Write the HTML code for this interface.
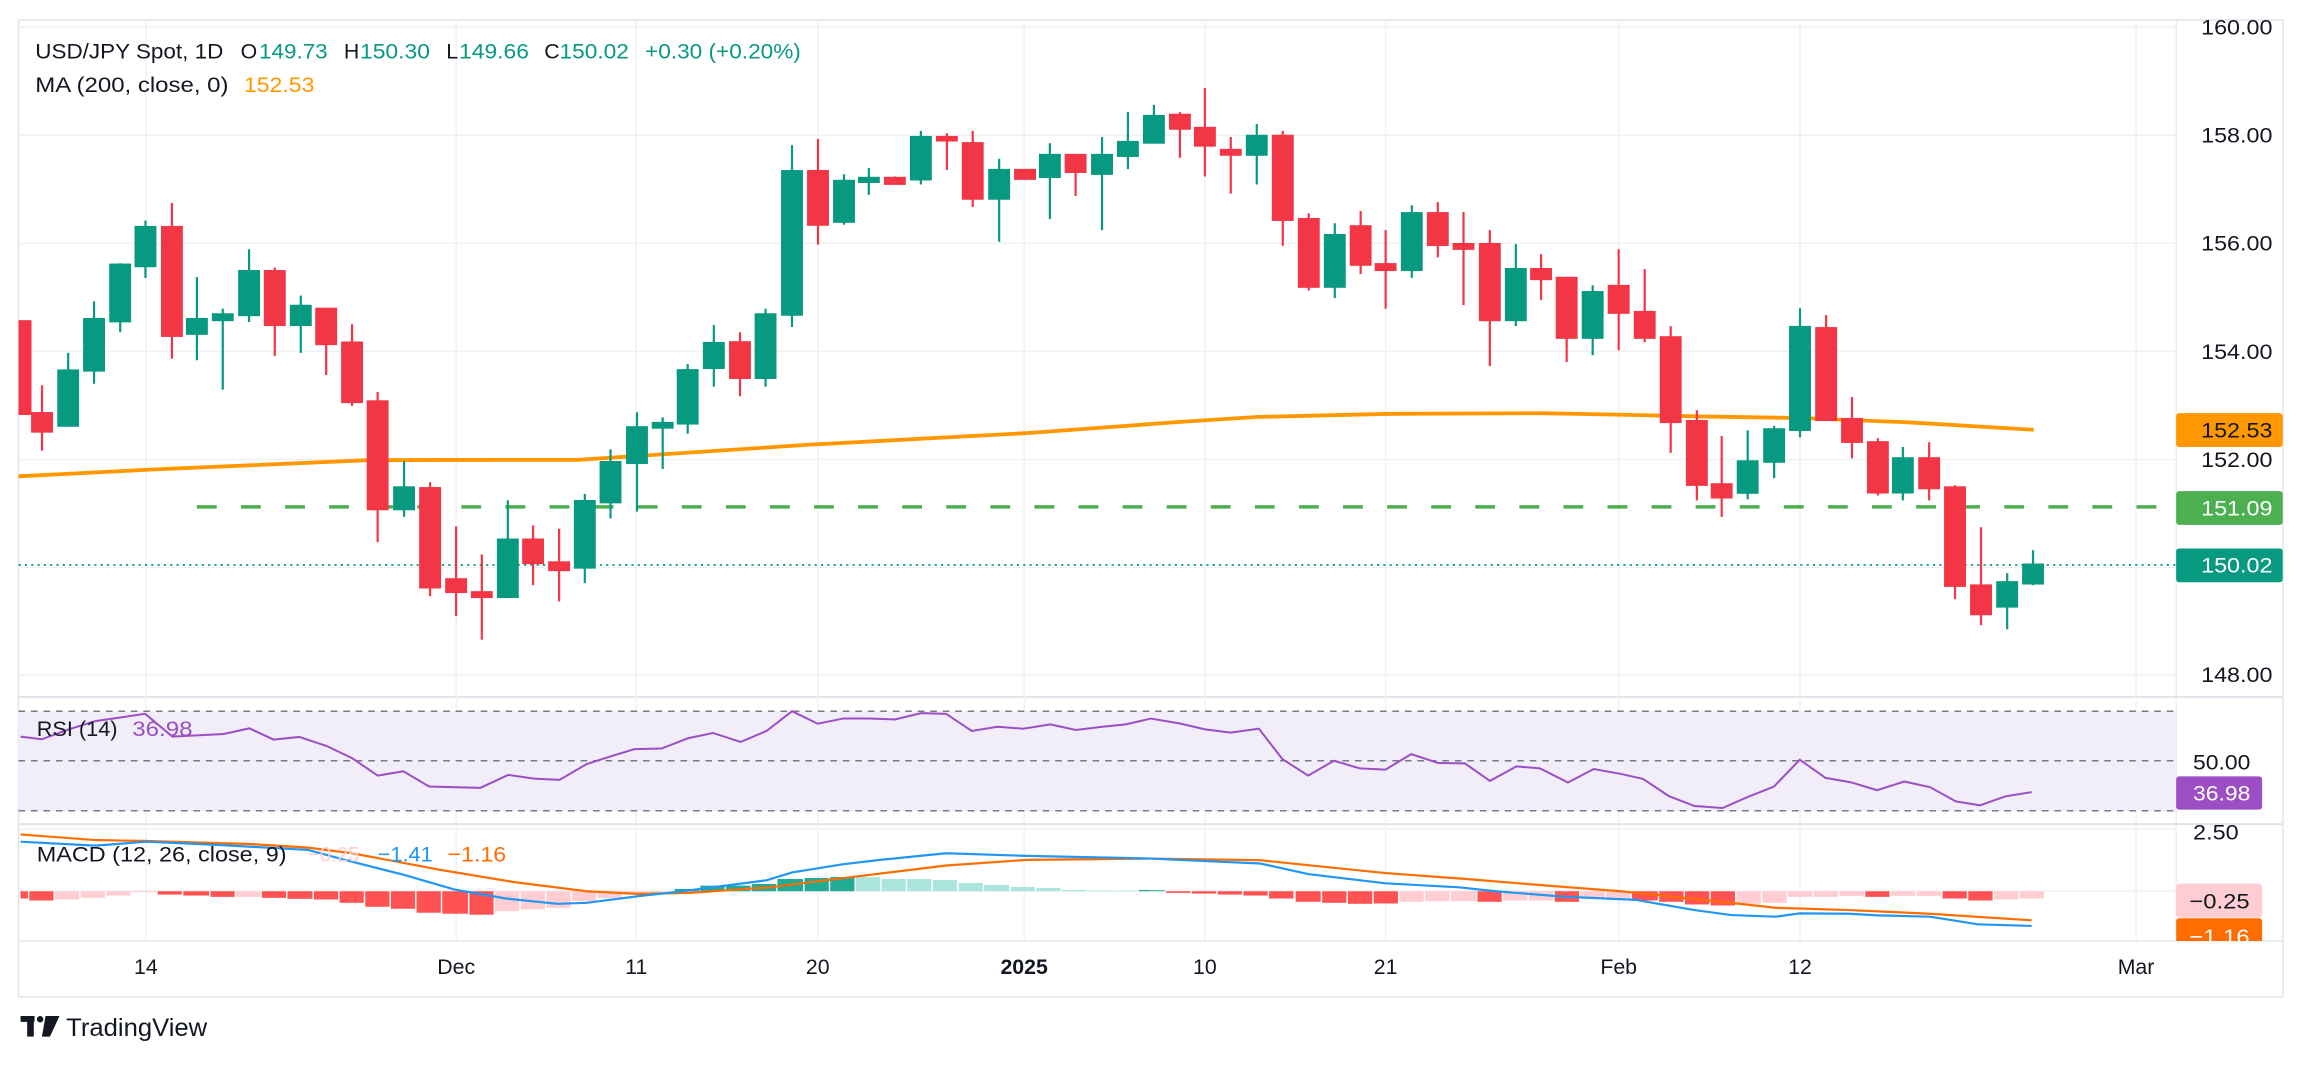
<!DOCTYPE html>
<html><head><meta charset="utf-8"><style>
html,body{margin:0;padding:0;background:#fff;}
svg{display:block;}
text{font-family:"Liberation Sans",sans-serif;}
</style></head><body>
<svg width="2304" height="1066" viewBox="0 0 1568 725" preserveAspectRatio="none" xmlns="http://www.w3.org/2000/svg">
<defs>
<clipPath id="cm"><rect x="12.6" y="13.6" width="1468.4" height="460"/></clipPath>
<clipPath id="cr"><rect x="12.6" y="475" width="1468.4" height="85"/></clipPath>
<clipPath id="cd"><rect x="12.6" y="561" width="1468.4" height="79"/></clipPath>
<clipPath id="cax"><rect x="1481" y="561" width="80" height="79"/></clipPath>
</defs>
<rect width="1568" height="725" fill="#fff"/>
<!-- frame -->
<rect x="12.6" y="13.6" width="1541" height="664.4" fill="none" stroke="#e0e3eb" stroke-width="1"/>
<line x1="12.6" y1="474" x2="1554" y2="474" stroke="#e0e3eb" stroke-width="1.3"/>
<line x1="12.6" y1="560.5" x2="1554" y2="560.5" stroke="#e0e3eb" stroke-width="1.3"/>
<line x1="12.6" y1="640" x2="1554" y2="640" stroke="#e0e3eb" stroke-width="0.8"/>
<line x1="1481" y1="13.6" x2="1481" y2="640" stroke="#e0e3eb" stroke-width="0.6"/>
<!-- grid -->
<g stroke="#f0f1f4" stroke-width="1">
<line x1="12.6" y1="18.3" x2="1481" y2="18.3"/>
<line x1="12.6" y1="92" x2="1481" y2="92"/>
<line x1="12.6" y1="165.5" x2="1481" y2="165.5"/>
<line x1="12.6" y1="239" x2="1481" y2="239"/>
<line x1="12.6" y1="312.5" x2="1481" y2="312.5"/>
<line x1="12.6" y1="386" x2="1481" y2="386"/>
<line x1="12.6" y1="459" x2="1481" y2="459"/>
<line x1="12.6" y1="564" x2="1481" y2="564"/>
<line x1="12.6" y1="606" x2="1481" y2="606"/>
<line x1="99.3" y1="13.6" x2="99.3" y2="640"/>
<line x1="310.5" y1="13.6" x2="310.5" y2="640"/>
<line x1="433" y1="13.6" x2="433" y2="640"/>
<line x1="556.5" y1="13.6" x2="556.5" y2="640"/>
<line x1="697" y1="13.6" x2="697" y2="640"/>
<line x1="820" y1="13.6" x2="820" y2="640"/>
<line x1="943" y1="13.6" x2="943" y2="640"/>
<line x1="1101.6" y1="13.6" x2="1101.6" y2="640"/>
<line x1="1225" y1="13.6" x2="1225" y2="640"/>
<line x1="1453.7" y1="13.6" x2="1453.7" y2="640"/>
</g>

<!-- main pane -->
<g clip-path="url(#cm)">
<polyline fill="none" stroke="#ff9800" stroke-width="2.6" points="12,324 100,319.5 250,313 300,312.8 394,312.7 550,302.5 700,294.5 802,287 855,283.6 943,281.5 1048,281 1100,282 1157,283.2 1225,284.3 1300,287.3 1384,292.3"/>
<line x1="134" y1="344.7" x2="1481" y2="344.7" stroke="#4caf50" stroke-width="2.4" stroke-dasharray="13.5 16.5"/>
<line x1="12.6" y1="384.3" x2="1481" y2="384.3" stroke="#089981" stroke-width="1.2" stroke-dasharray="1.5 2.8"/>
<g id="candles" stroke-width="1.5">
<g stroke="#f23645" fill="#f23645">
<rect x="7.3" y="218.5" width="13.4" height="63"/>
<line x1="28.6" y1="262" x2="28.6" y2="306.5"/><rect x="21.9" y="281" width="13.4" height="12.5"/>
<line x1="117" y1="138" x2="117" y2="244"/><rect x="110.3" y="154.4" width="13.4" height="74"/>
<line x1="187" y1="182" x2="187" y2="242"/><rect x="180.3" y="184.4" width="13.4" height="36.6"/>
<line x1="222" y1="210" x2="222" y2="255"/><rect x="215.3" y="210" width="13.4" height="24"/>
<line x1="239.6" y1="220.5" x2="239.6" y2="276"/><rect x="232.9" y="233" width="13.4" height="40.4"/>
<line x1="257" y1="266.6" x2="257" y2="368.7"/><rect x="250.3" y="273" width="13.4" height="73.3"/>
<line x1="292.7" y1="328" x2="292.7" y2="405.5"/><rect x="286" y="332" width="13.4" height="67.5"/>
<line x1="310.4" y1="358" x2="310.4" y2="419"/><rect x="303.7" y="394" width="13.4" height="8.6"/>
<line x1="327.9" y1="377" x2="327.9" y2="435"/><rect x="321.2" y="402.8" width="13.4" height="3.2"/>
<line x1="362.8" y1="357.3" x2="362.8" y2="398"/><rect x="356.1" y="367" width="13.4" height="16"/>
<line x1="380.5" y1="359.6" x2="380.5" y2="409"/><rect x="373.8" y="382.5" width="13.4" height="5.2"/>
<line x1="503.6" y1="226" x2="503.6" y2="269.5"/><rect x="496.9" y="232.8" width="13.4" height="24.2"/>
<line x1="556.7" y1="94.5" x2="556.7" y2="166.4"/><rect x="550" y="116.4" width="13.4" height="36.4"/>
<line x1="609" y1="120" x2="609" y2="125"/><rect x="602.3" y="121" width="13.4" height="4"/>
<line x1="644.4" y1="90.6" x2="644.4" y2="115.6"/><rect x="637.7" y="93.2" width="13.4" height="2.3"/>
<line x1="662" y1="89" x2="662" y2="140.8"/><rect x="655.3" y="97.4" width="13.4" height="37.7"/>
<rect x="690.9" y="115.6" width="13.4" height="6"/>
<line x1="732" y1="105.4" x2="732" y2="133.3"/><rect x="725.3" y="105.4" width="13.4" height="11.5"/>
<line x1="803" y1="76.3" x2="803" y2="107.3"/><rect x="796.3" y="78.1" width="13.4" height="9.4"/>
<line x1="820" y1="59.9" x2="820" y2="120"/><rect x="813.3" y="87" width="13.4" height="12"/>
<line x1="837.6" y1="93.2" x2="837.6" y2="131.7"/><rect x="830.9" y="102" width="13.4" height="3.2"/>
<line x1="873" y1="89" x2="873" y2="167.2"/><rect x="866.3" y="92.4" width="13.4" height="57.1"/>
<line x1="890.7" y1="145" x2="890.7" y2="197.6"/><rect x="884" y="149" width="13.4" height="46"/>
<line x1="926" y1="143.5" x2="926" y2="186.4"/><rect x="919.3" y="153.9" width="13.4" height="26.1"/>
<line x1="943" y1="156.5" x2="943" y2="210"/><rect x="936.3" y="179.7" width="13.4" height="3.9"/>
<line x1="978.5" y1="137.5" x2="978.5" y2="175"/><rect x="971.8" y="145" width="13.4" height="21.6"/>
<line x1="996" y1="144.2" x2="996" y2="207.5"/><rect x="989.3" y="166" width="13.4" height="3.2"/>
<line x1="1013.9" y1="156.5" x2="1013.9" y2="249"/><rect x="1007.2" y="166" width="13.4" height="51.7"/>
<line x1="1048.8" y1="172.9" x2="1048.8" y2="204"/><rect x="1042.1" y="183" width="13.4" height="6.8"/>
<line x1="1066.2" y1="189" x2="1066.2" y2="246.3"/><rect x="1059.5" y="189" width="13.4" height="40.7"/>
<line x1="1101.6" y1="169.5" x2="1101.6" y2="238.3"/><rect x="1094.9" y="194.5" width="13.4" height="18.2"/>
<line x1="1119.3" y1="183" x2="1119.3" y2="232.8"/><rect x="1112.6" y="212.2" width="13.4" height="17.5"/>
<line x1="1137" y1="221.8" x2="1137" y2="308"/><rect x="1130.3" y="229.4" width="13.4" height="57.6"/>
<line x1="1154.8" y1="279" x2="1154.8" y2="340.3"/><rect x="1148.1" y="286.4" width="13.4" height="43.3"/>
<line x1="1171.7" y1="296.6" x2="1171.7" y2="351.5"/><rect x="1165" y="329.4" width="13.4" height="8.9"/>
<line x1="1242.8" y1="214.3" x2="1242.8" y2="285.6"/><rect x="1236.1" y="223.2" width="13.4" height="62.4"/>
<line x1="1260.4" y1="270" x2="1260.4" y2="311.7"/><rect x="1253.7" y="285" width="13.4" height="15.5"/>
<line x1="1278" y1="298" x2="1278" y2="337"/><rect x="1271.3" y="300.8" width="13.4" height="34.1"/>
<line x1="1312.9" y1="300.8" x2="1312.9" y2="340.3"/><rect x="1306.2" y="311.7" width="13.4" height="20.3"/>
<line x1="1330.5" y1="330" x2="1330.5" y2="407.5"/><rect x="1323.8" y="331.5" width="13.4" height="66.9"/>
<line x1="1348.2" y1="358.6" x2="1348.2" y2="425.2"/><rect x="1341.5" y="398.2" width="13.4" height="19.5"/>
</g>
<g stroke="#089981" fill="#089981">
<line x1="46.4" y1="240" x2="46.4" y2="289.5"/><rect x="39.7" y="252" width="13.4" height="37.5"/>
<line x1="64" y1="205" x2="64" y2="261"/><rect x="57.3" y="217" width="13.4" height="35"/>
<line x1="81.8" y1="179" x2="81.8" y2="226"/><rect x="75.1" y="180" width="13.4" height="38.5"/>
<line x1="99" y1="150" x2="99" y2="189"/><rect x="92.3" y="154.4" width="13.4" height="26.6"/>
<line x1="134" y1="188.5" x2="134" y2="245"/><rect x="127.3" y="217" width="13.4" height="10"/>
<line x1="151.6" y1="210" x2="151.6" y2="265"/><rect x="144.9" y="213.8" width="13.4" height="3.9"/>
<line x1="169.5" y1="169.5" x2="169.5" y2="219"/><rect x="162.8" y="184.4" width="13.4" height="29.9"/>
<line x1="204.7" y1="201" x2="204.7" y2="240"/><rect x="198" y="208" width="13.4" height="13"/>
<line x1="275" y1="313.5" x2="275" y2="351.5"/><rect x="268.3" y="331.5" width="13.4" height="14.8"/>
<line x1="345.6" y1="340.3" x2="345.6" y2="406"/><rect x="338.9" y="367" width="13.4" height="39"/>
<line x1="398" y1="336" x2="398" y2="396.6"/><rect x="391.3" y="340.8" width="13.4" height="45.2"/>
<line x1="415.5" y1="305.5" x2="415.5" y2="352.6"/><rect x="408.8" y="314.3" width="13.4" height="27.3"/>
<line x1="433.5" y1="280.4" x2="433.5" y2="348"/><rect x="426.8" y="290.6" width="13.4" height="24.2"/>
<line x1="451" y1="283.8" x2="451" y2="319"/><rect x="444.3" y="287.7" width="13.4" height="3.1"/>
<line x1="468" y1="247.6" x2="468" y2="295"/><rect x="461.3" y="251.8" width="13.4" height="36.2"/>
<line x1="485.8" y1="221" x2="485.8" y2="263"/><rect x="479.1" y="233.3" width="13.4" height="16.9"/>
<line x1="521" y1="210" x2="521" y2="263"/><rect x="514.3" y="213.8" width="13.4" height="43.2"/>
<line x1="539" y1="98.7" x2="539" y2="222.4"/><rect x="532.3" y="116.4" width="13.4" height="97.6"/>
<line x1="574.4" y1="118.5" x2="574.4" y2="152.8"/><rect x="567.7" y="123" width="13.4" height="27.8"/>
<line x1="591.3" y1="114.3" x2="591.3" y2="132.5"/><rect x="584.6" y="121" width="13.4" height="2.7"/>
<line x1="626.7" y1="89" x2="626.7" y2="125.5"/><rect x="620" y="93.2" width="13.4" height="28.8"/>
<line x1="680" y1="108" x2="680" y2="164.5"/><rect x="673.3" y="115.6" width="13.4" height="19.5"/>
<line x1="714.5" y1="97.4" x2="714.5" y2="149"/><rect x="707.8" y="105.4" width="13.4" height="14.9"/>
<line x1="750" y1="93.2" x2="750" y2="156.5"/><rect x="743.3" y="105.4" width="13.4" height="12.8"/>
<line x1="767.6" y1="76.3" x2="767.6" y2="115"/><rect x="760.9" y="96.6" width="13.4" height="9.4"/>
<line x1="785.3" y1="71.3" x2="785.3" y2="97"/><rect x="778.6" y="78.9" width="13.4" height="18.1"/>
<line x1="855.3" y1="84.3" x2="855.3" y2="125.5"/><rect x="848.6" y="92.4" width="13.4" height="12.8"/>
<line x1="908.4" y1="151.8" x2="908.4" y2="202.8"/><rect x="901.7" y="159.9" width="13.4" height="35.1"/>
<line x1="960.8" y1="139.6" x2="960.8" y2="189"/><rect x="954.1" y="145" width="13.4" height="38.6"/>
<line x1="1031.6" y1="166" x2="1031.6" y2="221.8"/><rect x="1024.9" y="183" width="13.4" height="34.7"/>
<line x1="1083.9" y1="194" x2="1083.9" y2="241.6"/><rect x="1077.2" y="198.7" width="13.4" height="31"/>
<line x1="1189.4" y1="292.7" x2="1189.4" y2="339.6"/><rect x="1182.7" y="313.8" width="13.4" height="21.3"/>
<line x1="1207.4" y1="289.6" x2="1207.4" y2="325.2"/><rect x="1200.7" y="292" width="13.4" height="22"/>
<line x1="1225" y1="209.6" x2="1225" y2="297.4"/><rect x="1218.3" y="222.4" width="13.4" height="70"/>
<line x1="1295" y1="304" x2="1295" y2="340.3"/><rect x="1288.3" y="311.7" width="13.4" height="23.2"/>
<line x1="1366" y1="389.8" x2="1366" y2="428"/><rect x="1359.3" y="396" width="13.4" height="16.5"/>
<line x1="1383.6" y1="374.2" x2="1383.6" y2="398"/><rect x="1376.9" y="384" width="13.4" height="12.8"/>
</g>
</g>
</g>

<!-- RSI pane -->
<g clip-path="url(#cr)">
<rect x="12.6" y="483.7" width="1468.4" height="68" fill="#f1edf9"/>
<g stroke="#787b86" stroke-width="1" stroke-dasharray="4.5 4">
<line x1="12.6" y1="483.7" x2="1481" y2="483.7"/>
<line x1="12.6" y1="517.4" x2="1481" y2="517.4"/>
<line x1="12.6" y1="551.4" x2="1481" y2="551.4"/>
</g>
<g transform="translate(0,462.33) scale(0.49913,0.22472)">
<polyline fill="none" stroke="#9c4fc5" stroke-width="2" vector-effect="non-scaling-stroke" points="28,172 57,180 94,150 130,125 198,103 235,172 305,164 340,147 373,181 408,173 445,200 480,237 515,290 550,277 585,323 655,327 693,288 728,299 763,303 800,255 835,230 865,210 902,208 938,177 972,161 1010,188 1045,155 1080,95 1115,133 1150,117 1185,117 1220,120 1256,101 1290,103 1325,155 1360,142 1395,148 1432,135 1467,152 1500,143 1535,135 1568,118"/>
</g>
<g transform="translate(782.6,462.33) scale(0.50085,0.22472)">
<polyline fill="none" stroke="#9c4fc5" stroke-width="2" vector-effect="non-scaling-stroke" points="0,117 40,132 75,150 110,160 148,148 180,240 215,290 250,245 285,268 320,272 355,225 392,252 428,253 462,306 498,262 530,268 568,311 603,270 640,285 670,300 705,352 740,382 778,388 812,355 848,323 883,242 918,297 952,310 988,334 1025,308 1060,325 1095,368 1128,380 1162,353 1198,340"/>
</g>
</g>

<!-- MACD pane -->
<g clip-path="url(#cd)">
<g transform="translate(0,462.33) scale(0.49913,0.22472)">
<g fill="#ff5252">
<rect x="28" y="640" width="10" height="22"/><rect x="40" y="640" width="33" height="28"/>
<rect x="215" y="640" width="33" height="10"/><rect x="250" y="640" width="35" height="13"/><rect x="287" y="640" width="33" height="17"/>
<rect x="357" y="640" width="33" height="20"/><rect x="392" y="640" width="34" height="23"/><rect x="428" y="640" width="33" height="25"/>
<rect x="463" y="640" width="33" height="35"/><rect x="498" y="640" width="33" height="47"/><rect x="533" y="640" width="33" height="53"/>
<rect x="568" y="640" width="33" height="65"/><rect x="603" y="640" width="35" height="68"/><rect x="640" y="640" width="33" height="71"/>
</g>
<g fill="#ffcdd2">
<rect x="75" y="640" width="33" height="25"/><rect x="110" y="640" width="33" height="20"/><rect x="145" y="640" width="33" height="13"/>
<rect x="180" y="640" width="33" height="3"/><rect x="322" y="640" width="33" height="17"/>
<rect x="675" y="640" width="33" height="60"/><rect x="710" y="640" width="33" height="55"/><rect x="745" y="640" width="33" height="50"/>
<rect x="780" y="640" width="33" height="30"/><rect x="815" y="640" width="33" height="20"/><rect x="850" y="640" width="33" height="10"/>
<rect x="885" y="640" width="33" height="5"/>
</g>
<g fill="#22ab94">
<rect x="920" y="633" width="33" height="7"/><rect x="955" y="623" width="33" height="17"/><rect x="990" y="623" width="33" height="17"/>
<rect x="1025" y="618" width="33" height="22"/><rect x="1060" y="603" width="35" height="37"/><rect x="1097" y="600" width="33" height="40"/>
<rect x="1132" y="597" width="33" height="43"/><rect x="1553" y="636" width="15" height="4"/>
</g>
<g fill="#ace5dc">
<rect x="1167" y="597" width="33" height="43"/><rect x="1202" y="603" width="33" height="37"/><rect x="1237" y="603" width="33" height="37"/>
<rect x="1272" y="606" width="33" height="34"/><rect x="1307" y="615" width="33" height="25"/><rect x="1342" y="621" width="34" height="19"/>
<rect x="1378" y="627" width="33" height="13"/><rect x="1413" y="630" width="33" height="10"/><rect x="1448" y="636" width="33" height="4"/>
<rect x="1483" y="638" width="33" height="2"/><rect x="1518" y="638" width="33" height="2"/>
</g>
<polyline fill="none" stroke="#ff6d00" stroke-width="2.2" vector-effect="non-scaling-stroke" points="28,468 130,485 200,488 340,497 420,508 480,525 600,575 700,612 800,640 870,648 940,645 1050,628 1150,600 1290,562 1400,545 1568,541"/>
<polyline fill="none" stroke="#2196f3" stroke-width="2.2" vector-effect="non-scaling-stroke" points="28,490 130,502 200,490 300,500 420,515 470,545 550,590 620,635 690,662 760,678 800,675 870,655 920,643 1045,607 1080,583 1150,558 1200,545 1290,525 1400,533 1568,541"/>
</g>
<g transform="translate(782.6,462.33) scale(0.50085,0.22472)">
<g fill="#22ab94"><rect x="0" y="637" width="20" height="3"/></g>
<g fill="#ff5252">
<rect x="22" y="640" width="33" height="5"/><rect x="57" y="640" width="33" height="7"/><rect x="92" y="640" width="33" height="10"/>
<rect x="127" y="640" width="33" height="13"/><rect x="162" y="640" width="33" height="22"/><rect x="198" y="640" width="34" height="32"/>
<rect x="234" y="640" width="33" height="35"/><rect x="269" y="640" width="33" height="38"/><rect x="304" y="640" width="33" height="37"/>
<rect x="445" y="640" width="33" height="32"/><rect x="550" y="640" width="33" height="32"/><rect x="655" y="640" width="35" height="28"/>
<rect x="692" y="640" width="33" height="32"/><rect x="727" y="640" width="33" height="40"/><rect x="762" y="640" width="33" height="43"/>
<rect x="972" y="640" width="33" height="17"/><rect x="1077" y="640" width="33" height="22"/><rect x="1112" y="640" width="33" height="28"/>
</g>
<g fill="#ffcdd2">
<rect x="339" y="640" width="33" height="32"/><rect x="374" y="640" width="33" height="30"/><rect x="409" y="640" width="34" height="30"/>
<rect x="480" y="640" width="33" height="28"/><rect x="515" y="640" width="33" height="28"/><rect x="585" y="640" width="33" height="23"/>
<rect x="620" y="640" width="33" height="23"/><rect x="797" y="640" width="33" height="38"/><rect x="832" y="640" width="33" height="35"/>
<rect x="867" y="640" width="33" height="17"/><rect x="902" y="640" width="33" height="17"/><rect x="937" y="640" width="33" height="14"/>
<rect x="1007" y="640" width="33" height="14"/><rect x="1042" y="640" width="33" height="14"/><rect x="1147" y="640" width="33" height="25"/>
<rect x="1182" y="640" width="33" height="22"/>
</g>
<polyline fill="none" stroke="#ff6d00" stroke-width="2.2" vector-effect="non-scaling-stroke" points="0,541 150,546 210,560 320,585 430,603 540,623 640,640 760,668 850,690 950,697 1060,708 1198,728"/>
<polyline fill="none" stroke="#2196f3" stroke-width="2.2" vector-effect="non-scaling-stroke" points="0,541 150,556 215,588 320,616 420,628 470,640 560,656 660,666 740,697 790,712 850,717 883,707 950,708 990,713 1060,717 1125,740 1198,745"/>
</g>
</g>

<!-- legends -->
<g font-size="14.5">
<text x="24" y="39.7" fill="#131722" textLength="128" lengthAdjust="spacingAndGlyphs">USD/JPY Spot, 1D</text>
<text x="163.8" y="39.7" fill="#131722">O</text><text x="176.3" y="39.7" fill="#089981" textLength="46.7" lengthAdjust="spacingAndGlyphs">149.73</text>
<text x="234" y="39.7" fill="#131722">H</text><text x="245" y="39.7" fill="#089981" textLength="47.6" lengthAdjust="spacingAndGlyphs">150.30</text>
<text x="303.7" y="39.7" fill="#131722">L</text><text x="312.4" y="39.7" fill="#089981" textLength="47.6" lengthAdjust="spacingAndGlyphs">149.66</text>
<text x="370.4" y="39.7" fill="#131722">C</text><text x="380.8" y="39.7" fill="#089981" textLength="47.2" lengthAdjust="spacingAndGlyphs">150.02</text>
<text x="439" y="39.7" fill="#089981" textLength="106" lengthAdjust="spacingAndGlyphs">+0.30 (+0.20%)</text>
<text x="24" y="62.5" fill="#131722" textLength="131.5" lengthAdjust="spacingAndGlyphs">MA (200, close, 0)</text>
<text x="166" y="62.5" fill="#ff9800" textLength="48" lengthAdjust="spacingAndGlyphs">152.53</text>
<text x="25" y="500.5" fill="#131722" textLength="55" lengthAdjust="spacingAndGlyphs">RSI (14)</text>
<text x="90" y="500.5" fill="#9c4fc5" textLength="41" lengthAdjust="spacingAndGlyphs">36.98</text>
<text x="25" y="586" fill="#131722" textLength="170" lengthAdjust="spacingAndGlyphs">MACD (12, 26, close, 9)</text>
<text x="209.6" y="586" fill="#ffcdd2" textLength="35" lengthAdjust="spacingAndGlyphs">−0.25</text>
<text x="257" y="586" fill="#2196f3" textLength="37.5" lengthAdjust="spacingAndGlyphs">−1.41</text>
<text x="304.5" y="586" fill="#ff6d00" textLength="40" lengthAdjust="spacingAndGlyphs">−1.16</text>
</g>

<!-- price axis -->
<g font-size="14.5" fill="#131722">
<text x="1498" y="23.5" textLength="48.5" lengthAdjust="spacingAndGlyphs">160.00</text>
<text x="1498" y="97" textLength="48.5" lengthAdjust="spacingAndGlyphs">158.00</text>
<text x="1498" y="170.5" textLength="48.5" lengthAdjust="spacingAndGlyphs">156.00</text>
<text x="1498" y="244" textLength="48.5" lengthAdjust="spacingAndGlyphs">154.00</text>
<text x="1498" y="317.5" textLength="48.5" lengthAdjust="spacingAndGlyphs">152.00</text>
<text x="1498" y="464" textLength="48.5" lengthAdjust="spacingAndGlyphs">148.00</text>
<rect x="1481" y="281" width="72.5" height="23" rx="2" fill="#ff9800"/>
<text x="1498" y="297.5" textLength="48.5" lengthAdjust="spacingAndGlyphs">152.53</text>
<rect x="1481" y="334" width="72.5" height="23" rx="2" fill="#4caf50"/>
<text x="1498" y="350.5" fill="#fff" textLength="48.5" lengthAdjust="spacingAndGlyphs">151.09</text>
<rect x="1481" y="373" width="72.5" height="23" rx="2" fill="#089981"/>
<text x="1498" y="389.5" fill="#fff" textLength="48.5" lengthAdjust="spacingAndGlyphs">150.02</text>
<text x="1492.5" y="523.5" textLength="39" lengthAdjust="spacingAndGlyphs">50.00</text>
<rect x="1481" y="528" width="58.5" height="22.6" rx="2" fill="#9c4fc5"/>
<text x="1492.5" y="544.5" fill="#fff" textLength="39" lengthAdjust="spacingAndGlyphs">36.98</text>
<g clip-path="url(#cax)">
<text x="1492.5" y="571" textLength="31" lengthAdjust="spacingAndGlyphs">2.50</text>
<rect x="1481" y="601" width="58.5" height="23" rx="2" fill="#ffcdd2"/>
<text x="1490" y="618" textLength="41" lengthAdjust="spacingAndGlyphs">−0.25</text>
<rect x="1481" y="624.5" width="58.5" height="23" rx="2" fill="#ff6d00"/>
<text x="1490" y="642" fill="#fff" textLength="41" lengthAdjust="spacingAndGlyphs">−1.16</text>
</g>
</g>

<!-- time axis -->
<g font-size="14.5" fill="#131722" text-anchor="middle">
<text x="99.3" y="662.3">14</text>
<text x="310.5" y="662.3">Dec</text>
<text x="433" y="662.3">11</text>
<text x="556.5" y="662.3">20</text>
<text x="697" y="662.3" font-weight="bold">2025</text>
<text x="820" y="662.3">10</text>
<text x="943" y="662.3">21</text>
<text x="1101.6" y="662.3">Feb</text>
<text x="1225" y="662.3">12</text>
<text x="1453.7" y="662.3">Mar</text>
</g>

<!-- logo -->
<g fill="#131722">
<rect x="14" y="691" width="9.5" height="4"/>
<rect x="18.5" y="691" width="4.5" height="14"/>
<circle cx="27.3" cy="693.2" r="2.2"/>
<polygon points="31,691 40.5,691 34,705 28.5,705"/>
<text x="45" y="704.5" font-size="17" textLength="96" lengthAdjust="spacingAndGlyphs">TradingView</text>
</g>
</svg>
</body></html>
